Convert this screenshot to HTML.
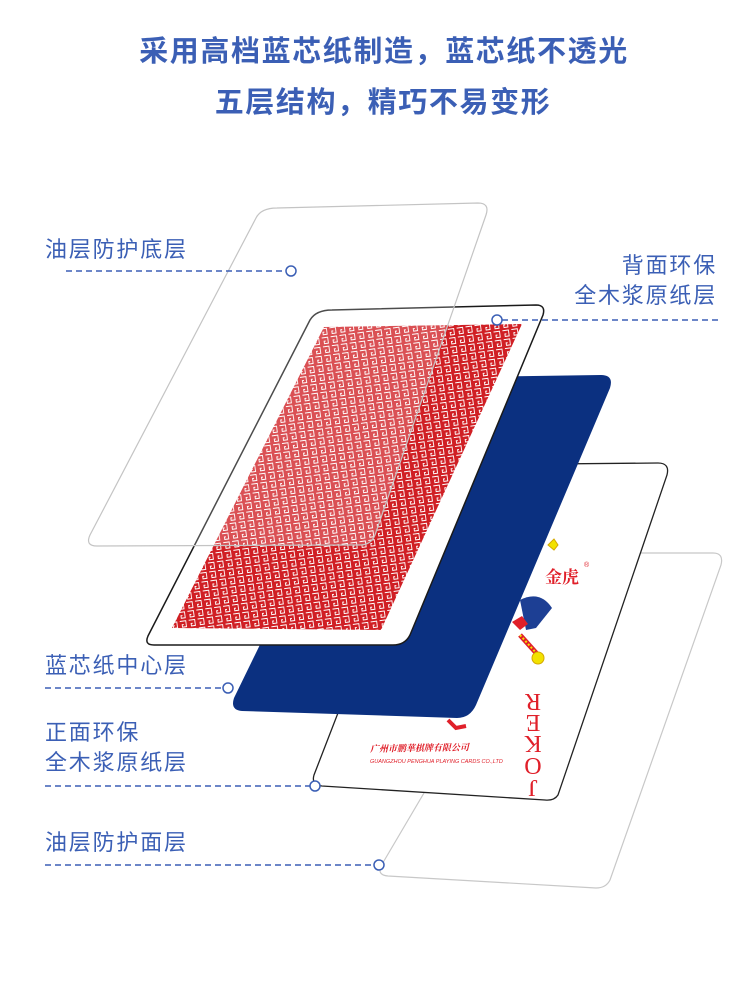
<!DOCTYPE html>
<html><head><meta charset="utf-8"><style>
html,body{margin:0;padding:0;background:#fff;}
body{width:750px;height:989px;overflow:hidden;position:relative;font-family:"Liberation Sans","Noto Sans CJK SC",sans-serif;}
svg{position:absolute;left:0;top:0;}
.t{font-family:"Liberation Sans","Noto Sans CJK SC",sans-serif;fill:#3b5fb5;}
</style></head><body>
<svg width="750" height="989" viewBox="0 0 750 989">
<defs>
<pattern id="pt" width="9" height="9" patternUnits="userSpaceOnUse" patternTransform="rotate(-8)">
<rect width="9" height="9" fill="#d01f24"/>
<path d="M1.5 1.5h6v6h-4v-2.5h1.5" fill="none" stroke="#fff" stroke-width="0.9"/>
</pattern>
</defs>
<text class="t" x="384" y="61" font-size="29" font-weight="bold" letter-spacing="1.6" text-anchor="middle">采用高档蓝芯纸制造，蓝芯纸不透光</text>
<text class="t" x="383" y="112" font-size="29" font-weight="bold" letter-spacing="1.6" text-anchor="middle">五层结构，精巧不易变形</text>

<path d="M578 553 L713 553 Q724 553 721 565 L610 880 Q606 888 596 888 L388 876 Q377 875 381 866 L560 562 Q565 553 578 553Z" fill="#fff" stroke="#c8c8c8" stroke-width="1.2"/>
<path d="M445 465 L658 463 Q670 463 667 475 L558 795 Q554 801 545 800 L322 786 Q311 785 314 775 L430 475 Q434 465 445 465Z" fill="#fff" stroke="#222" stroke-width="1.3"/>
<text x="545" y="583" font-size="17" font-weight="bold" fill="#e0202a" font-family="Liberation Serif,'Noto Serif CJK SC',serif">金虎</text>
<text x="584" y="567" font-size="7" fill="#e0202a">®</text>
<path d="M548 545 l6 -6 l4 6 l-4 5z" fill="#f2e200" stroke="#d4a800"/>
<path d="M520 600 q20 -10 32 8 l-16 20 l-10 2z" fill="#1d3f94"/>
<path d="M512 622 l10 -6 l6 8 l-8 6z" fill="#e0202a"/>
<path d="M520 635 l18 20" stroke="#e0202a" stroke-width="5"/>
<path d="M520 635 l18 20" stroke="#f2e200" stroke-width="2" stroke-dasharray="2 2"/>
<circle cx="538" cy="658" r="6" fill="#f2e200" stroke="#d4a800"/>
<path d="M448 720 l8 8 l10 -2" stroke="#e0202a" stroke-width="4" fill="none"/>
<text x="370" y="752" font-size="9" font-weight="bold" fill="#e0202a" font-style="italic" transform="rotate(-1 370 752)" font-family="'Noto Serif CJK SC',serif">广州市鹏華棋牌有限公司</text>
<text x="370" y="763" font-size="5.5" fill="#e0202a" font-style="italic">GUANGZHOU PENGHUA PLAYING CARDS CO.,LTD</text>
<g transform="rotate(180 533 740)" font-size="24" fill="#e0202a" font-family="Liberation Serif,serif" text-anchor="middle">
<text x="533" y="700">J</text><text x="533" y="722">O</text><text x="533" y="744">K</text><text x="533" y="765">E</text><text x="533" y="786">R</text>
</g>
<path d="M400 378 L601 375 Q614 375 610 388 L476 705 Q470 718 457 718 L242 711 Q230 710 234 698 L385 388 Q390 378 400 378Z" fill="#0b3080"/>
<path d="M332 310 L536 305 Q546 305 543 315 L410 635 Q405 645 393 645 L154 645 Q144 645 148 636 L310 320 Q316 310 332 310Z" fill="#fff" stroke="#1a1a1a" stroke-width="1.5"/>
<path d="M324 327 L522 324 L381 630 L172 628Z" fill="url(#pt)"/>
<path d="M277 208 L478 203 Q490 203 486 215 L375 535 Q371 545 360 545 L97 546 Q85 546 90 535 L256 218 Q261 208 277 208Z" fill="rgba(255,255,255,0.22)" stroke="#c4c4c4" stroke-width="1.2"/>

<g class="t" font-size="22" letter-spacing="1.8">
<text x="45" y="257">油层防护底层</text>
<text x="717" y="273" text-anchor="end">背面环保</text>
<text x="717" y="303" text-anchor="end">全木浆原纸层</text>
<text x="45" y="673">蓝芯纸中心层</text>
<text x="45" y="740">正面环保</text>
<text x="45" y="770">全木浆原纸层</text>
<text x="45" y="850">油层防护面层</text>
</g>
<g stroke="#3b5fb5" stroke-width="1.5" fill="none">
<path d="M66 271 H286" stroke-dasharray="6 4"/><circle cx="291" cy="271" r="5" fill="#fff"/>
<path d="M502 320 H722" stroke-dasharray="6 4"/><circle cx="497" cy="320" r="5" fill="#fff"/>
<path d="M45 688 H223" stroke-dasharray="6 4"/><circle cx="228" cy="688" r="5" fill="#fff"/>
<path d="M45 786 H310" stroke-dasharray="6 4"/><circle cx="315" cy="786" r="5" fill="#fff"/>
<path d="M45 865 H374" stroke-dasharray="6 4"/><circle cx="379" cy="865" r="5" fill="#fff"/>
</g>
</svg>
</body></html>
